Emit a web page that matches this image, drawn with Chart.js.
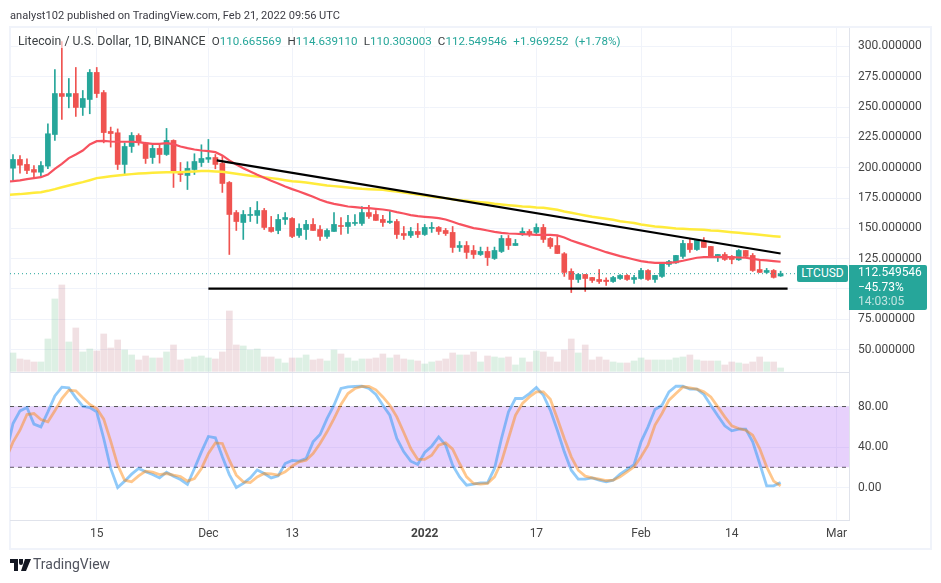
<!DOCTYPE html>
<html>
<head>
<meta charset="utf-8">
<title>LTCUSD</title>
<script src="https://cdn.jsdelivr.net/npm/chart.js@4/dist/chart.umd.min.js"></script>
<style>
  html, body { margin: 0; padding: 0; background: #fff; }
  body { width: 941px; height: 583px; position: relative; overflow: hidden; font-family: Roboto, sans-serif; color: #333; }
  #frame { position: absolute; left: 9px; top: 26px; width: 919px; height: 520px; border: 2px solid #f0f3fa; }
  canvas { position: absolute; left: 0; top: 0; }
  .txt { position: absolute; white-space: nowrap; }
  #published { left: 10px; top: 9px; font-size: 11.1px; color: #3c3c44; }
  #legend { left: 18px; top: 34px; font-size: 12.3px; color: #3c4043; background: rgba(255,255,255,.6); }
  #legend b { font-weight: 400; color: #26a69a; }
  #legend span { margin-left: 3.3px; font-size: 11.6px; }
  #tag { left: 797px; top: 265px; width: 51px; height: 17px; line-height: 17px; background: #26a69a; color: #fff; font-size: 12px; text-align: center; border-radius: 2px; }
  #box { left: 849px; top: 265px; width: 78px; height: 45px; background: #26a69a; color: #fff; font-size: 12px; line-height: 14.5px; padding-left: 9px; box-sizing: border-box; border-radius: 0 2px 2px 0; }
  #box i { font-style: normal; color: #bfe4e0; }
  #brand { left: 33px; top: 556px; font-size: 14px; color: #50535e; }
  #logo { position: absolute; left: 10px; top: 559px; }
</style>
</head>
<body>
<div id="frame"></div>
<canvas id="chart" width="941" height="583"></canvas>
<div class="txt" id="published">analyst102 published on TradingView.com, Feb 21, 2022 09:56 UTC</div>
<div class="txt" id="legend">Litecoin / U.S. Dollar, 1D, BINANCE<span> O<b>110.665569</b></span><span> H<b>114.639110</b></span><span> L<b>110.303003</b></span><span> C<b>112.549546</b></span><span> <b>+1.969252</b></span><span> <b>(+1.78%)</b></span></div>
<div class="txt" id="tag">LTCUSD</div>
<div class="txt" id="box">112.549546<br>−45.73%<br><i>14:03:05</i></div>
<svg id="logo" width="21" height="12" viewBox="0 0 21 12"><path d="M0 0h8v12H4V4H0z M9 0h4l-0 4a2 2 0 0 1-4 0z M15 0h6l-5 12h-5z" fill="#131722"/></svg>
<div class="txt" id="brand">TradingView</div>

<script>
// Velas diarias, el indice 0 es el 3 de noviembre de 2021
const opens = [
  199.6,206.8,202.7,198.5,196.3,201.3,227.4,261.2,258.8,261.2,
  249.7,256.3,278.6,262,229.9,228.8,202.7,217.5,226.6,220.5,
  208.4,215.9,210.9,222.5,195.2,193.6,198.5,204.3,207,208.4,
  203.5,187.8,163,154.8,160.6,160.6,164.7,150.7,148.2,157.3,
  158.1,144.1,149,153.2,149,143.3,147.4,152.3,151.5,154,
  154,163,161.4,157.3,154.8,155.6,145.7,144.1,147.4,144.9,
  149.9,150.7,148.2,146.6,134.2,135.8,131.7,128.4,130.9,125.1,
  130.9,141.6,135.8,144.9,147.4,146.6,150.7,141.6,135.8,129,
  114.4,107.8,111.9,109.4,107.8,107.2,106.1,108.6,111.1,107.8,
  108.6,115.2,107.8,110.3,120.2,121.5,126.8,137.5,132.5,139.1,
  135,125.9,128.4,126.8,124,131.7,127.6,116,113.6,115.2,110.67];
const highs = [
  210.9,210.1,207.3,201.8,205.1,236.2,281,304.1,273.6,282.7,
  263.7,281,282.7,263.7,233.5,232,220.5,229,228,221,
  219.2,219.7,232.4,223,204.3,204.9,211.5,218.9,223.3,210.9,
  209.3,188.6,164.7,164.7,167.2,172.1,166.4,159.8,161.4,163,
  158.9,153.7,156.5,158.1,152.3,149.6,163,158.9,160.6,161.4,
  168,168.9,164.7,160.6,163.9,157.3,151.5,150.7,154,153.2,
  154.8,151.5,149.9,151.5,139.1,139.1,135.8,134.5,134.5,134.5,
  144.1,144.1,140.8,150.4,149,153.7,153.2,142.4,143.3,130,
  116.6,112.7,112,109.5,116,109.2,110.3,111.9,111.9,111.1,
  116.9,116,111.2,121.8,123.5,127.7,140,140.8,140.8,142.4,
  135.1,128.4,130,127.6,132.5,131.8,129.2,123.5,116.9,116,114.64];
const lows = [
  189.5,195.5,195,191.7,193,199.1,222.5,239.8,249.4,242.3,
  243.1,244.5,257.9,220.5,217,198.5,195,212.6,218.6,203.5,
  203.5,203.8,210.1,183.7,188.6,182,194.4,201,204.3,199.1,
  179.6,128.4,148.2,140.8,155.6,154,149,146.8,145.5,153.2,
  142.2,142.4,140.8,148.2,140,141.6,147.4,144.9,145.7,152.3,
  152.3,158.1,156.5,151.5,154,141.6,140.8,142.4,142.4,144.1,
  146.6,144.9,144.1,130.1,130.9,125.1,125.1,127.6,119.3,124.3,
  130,132.5,135.8,144.1,143.3,144.1,138.3,133.4,129.2,110.3,
  97,105.3,97.9,105.3,104.5,102.9,105.3,107.8,107,104.5,
  108,107,105.3,109.4,118.5,121,125.1,130,131.7,134.2,
  125.9,122.6,123.5,120.7,123.5,125.7,114.4,113.6,112.7,108.9,110.3];
const closes = [
  206.8,202.1,197.7,196.3,201.8,228,261.2,258.8,261.2,249.7,
  257.1,278.6,261.2,229,228.2,202.7,217.5,226.6,221.6,207.6,
  215.9,210.9,222.5,196,194.4,199.4,205.1,207.6,208.4,202.7,
  187,161.4,155.6,161.4,161.4,164.7,150.7,147.4,157.3,158.9,
  143.3,149.9,153.2,148.2,143.3,148.2,153.2,151.5,154.8,154.8,
  163,159.8,156.5,154.8,155.9,144.9,144.1,147.4,144.9,150.7,
  150.7,147.4,145.7,134.2,135.8,130.1,128.4,130.9,125.9,131.7,
  141.6,135.8,137.5,147.4,145.5,150.7,140.8,135,129.2,113.6,
  107.8,111.9,108.6,107,106.1,106.1,109.4,111.1,107.8,109.4,
  115.2,107.8,111.1,121,122.6,127.6,137.5,132.5,140,134.2,
  125.9,128.4,124.3,124.3,131.7,126.8,115.2,113.6,115.2,109.5,112.55];
const volumes = [
  550,370,340,280,280,970,2170,2590,880,1300,
  580,670,610,1120,700,940,640,490,340,460,
  400,400,580,790,340,370,430,460,400,370,
  580,1810,790,760,640,670,430,430,370,250,
  400,400,490,340,370,310,640,520,400,310,
  370,370,400,520,400,490,370,340,310,220,
  280,310,370,550,490,490,580,280,460,430,
  400,430,190,400,280,610,580,430,280,640,
  970,550,790,340,430,340,280,250,250,310,
  400,340,340,340,340,400,430,490,340,310,
  310,310,190,280,250,220,280,430,280,280,100];

// Medias e indicador: empiezan un dia antes para llegar al borde del panel
const ma20 = [
  188.5,188.9,189.5,190.6,191.4,192.2,194.4,199.1,203.2,207.9,210.9,
  214.2,219.2,221.9,222.2,221.6,221.4,221.4,221.4,221.1,220.3,
  219.7,219.7,220.3,219.4,217.5,216.1,215,214.2,213.7,212.8,
  210.1,206,202.7,199.6,196.9,194.1,191.7,189.2,187,184.5,
  182.3,180.4,178.2,176,173.5,171.6,170.2,169.1,168,167.5,
  166.9,166.6,166.1,165.5,164.7,163.3,162.2,160.9,160,159.5,
  159,158.4,157.3,155.4,153.4,151.8,150.1,149.3,148.2,147.1,
  146.3,145.7,145.5,145.2,144.9,144.6,144.6,144.6,144.1,142.4,
  140,138,136.1,134.2,132.3,130.3,128.7,127,125.7,124.3,
  122.9,122.1,121.5,121.5,121.5,122.1,123.2,124.5,125.7,126.2,
  126.2,126.5,126.2,126.2,125.9,125.7,124.8,124,123.5,122.9,122.4];
const ma50 = [
  177.6,177.9,178.2,178.7,179.3,179.8,180.9,182.3,183.9,185.3,186.7,
  188.1,189.7,191.4,192.2,193,193.6,194.1,194.7,195.2,195.5,
  195.8,196,196.3,196.3,196.3,196.6,196.9,197.2,197.2,196.9,
  196.6,195.8,195,194.1,193.3,192.8,192.2,191.4,190.6,189.7,
  188.9,188.5,187.8,187,186.2,185.3,184.8,184.2,183.7,183.1,
  182.6,182.3,182,181.8,180.9,180.4,179.6,178.7,177.9,177.1,
  176.3,175.4,174.9,174,173.2,172.7,172.1,171.6,171,170.2,
  169.7,169.1,168.6,168,167.7,167.2,166.9,166.1,165.3,163.9,
  162.8,161.7,160.6,159.5,158.7,157.8,157,155.9,155.1,154.3,
  153.2,152.3,151.5,151,150.4,149.9,149.6,149.3,149,148.8,
  148.2,147.9,147.4,146.8,146.3,145.7,145.2,144.6,144.1,143.5,143];
const stochK = [
  33,63.2,75.7,79,62.6,59.9,74.7,90.5,99.1,98.4,88.6,
  80.3,79,74.7,48.4,18.8,0,6.3,13.2,18.8,15.5,
  12.8,9.5,15.1,11.2,7.9,3,18.8,35.2,50.4,49.1,
  30.3,12.8,0,4,9.5,17.4,13.8,9.5,11.5,23.7,
  26.7,26,28.6,45.1,52.3,68.1,81.3,97.8,99.4,99.8,
  100,97.8,91.9,81.3,71.4,48.4,35.2,26,22.7,34.6,
  40.8,50,41.8,22.1,10.5,2.3,3.3,4.6,4.6,18.8,
  48.4,74.7,87.9,87.9,92.8,98.8,91.2,76.4,56.6,35.2,
  17.1,8.2,8.2,9.5,7.2,5.6,7.2,13.2,17.8,22.7,
  45.1,59.9,77,81.3,94.5,100,100,97.1,97.1,91.9,
  81.3,70.8,60.9,56,57.6,57.6,45.1,23.7,1.6,1.6,4.9];
const stochD = [
  28.6,44.8,56.6,72.1,73.1,67.2,64.9,75.7,87.9,96.1,95.5,
  88.6,82,78,67.5,45.8,22.1,7.2,5.6,11.5,16.1,
  15.1,12.8,13.8,12.2,10.9,6.3,8.9,18.8,33.6,44.1,
  43.5,27,12.2,5.6,4.9,10.5,13.8,13.5,12.2,15.5,
  21.1,25.4,27,33.6,43.5,55,68.1,82,92.8,97.8,
  99.8,99.8,96.5,89.5,81.3,69.8,54.3,38.5,27.7,27.7,
  31.9,41.8,44.1,37.9,23.7,10.5,4,3.3,4,10.5,
  25.4,48.4,71.4,83,89.5,94.5,94.5,87.2,68.1,48.4,
  30.3,17.1,11.2,9.5,8.2,6.9,7.2,10.5,15.5,20.4,
  30.3,41.8,61.6,73.1,86.3,92.8,99.4,98.4,97.1,94.5,
  89.5,79.7,69.8,60.9,58.3,56.6,51.7,38.5,20.4,6.3,1.6];

// Lineas dibujadas a mano por el analista: [dia, precio]
const resistance = [[29.2, 206], [110, 129.2]];
const support = [[28, 100.3], [111, 100.3]];
const lastPrice = 112.549546;

// Marcas de los ejes
const timeTickDays = [12, 28, 40, 59, 75, 90, 103, 118];
const timeTickLabels = ['15', 'Dec', '13', '2022', '17', 'Feb', '14', 'Mar'];
const priceTicks = [300, 275, 250, 225, 200, 175, 150, 125, 100, 75, 50];
const stochTicks = [80, 40, 0];
const stochBand = [80, 20];

const GREEN = '#26a69a';
const RED = '#ef5350';
const GRID = '#f0f3fa';
const AXIS = '#e0e3eb';
const LABEL = '#444';
const xMin = -0.43, xMax = 119.8;

const points = (arr, first) => arr.map((y, i) => ({ x: i + first, y: y }));
const pairs = arr => arr.map(p => ({ x: p[0], y: p[1] }));
const fullWidth = y => [{ x: xMin, y: y }, { x: xMax, y: y }];
const isUp = i => closes[i] >= opens[i];
const fixedTicks = list => scale => { scale.ticks = list.map(v => ({ value: v })); };
const line = (data, color, width, extra) => Object.assign({
  type: 'line', data: data, borderColor: color, borderWidth: width,
  pointRadius: 0, tension: 0, fill: false, yAxisID: 'y'
}, extra);

// Linea entre el panel de precio y el indicador
const paneBorder = {
  id: 'paneBorder',
  beforeDatasetsDraw(chart) {
    const { ctx, chartArea, scales } = chart;
    ctx.save();
    ctx.strokeStyle = AXIS;
    ctx.beginPath();
    ctx.moveTo(chartArea.left, scales.y.bottom + 0.5);
    ctx.lineTo(chartArea.right, scales.y.bottom + 0.5);
    ctx.stroke();
    ctx.restore();
  }
};

new Chart(document.getElementById('chart'), {
  data: {
    datasets: [
      // banda del Stoch RSI
      line(fullWidth(stochBand[0]), '#555', 1,
        { yAxisID: 'yStoch', borderDash: [4, 4], fill: '+1', backgroundColor: 'rgba(160,70,245,.25)', order: 10 }),
      line(fullWidth(stochBand[1]), '#555', 1,
        { yAxisID: 'yStoch', borderDash: [4, 4], order: 10 }),
      // volumen
      {
        type: 'bar', data: points(volumes, 0), yAxisID: 'yVol', barThickness: 6, grouped: false, order: 9,
        backgroundColor: volumes.map((v, i) => isUp(i) ? 'rgba(76,175,110,.19)' : 'rgba(170,70,90,.17)')
      },
      // mechas y cuerpos de las velas
      {
        type: 'bar', data: lows.map((l, i) => ({ x: i, y: [l, highs[i]] })), yAxisID: 'y', barThickness: 1, grouped: false, order: 8,
        backgroundColor: lows.map((l, i) => isUp(i) ? GREEN : RED)
      },
      {
        type: 'bar', data: opens.map((o, i) => ({ x: i, y: [o, closes[i]] })), yAxisID: 'y', barThickness: 5, grouped: false, minBarLength: 1, order: 7,
        backgroundColor: opens.map((o, i) => isUp(i) ? GREEN : RED)
      },
      line(points(ma50, -1), '#ffeb3b', 2.5, { order: 6 }),
      line(points(ma20, -1), '#f7525f', 2.2, { order: 5 }),
      line(fullWidth(lastPrice), GREEN, 1, { borderDash: [1, 3], order: 4 }),
      line(pairs(resistance), '#000', 2.2, { order: 1 }),
      line(pairs(support), '#000', 2.2, { order: 1 }),
      line(points(stochK, -1), 'rgba(33,150,243,.5)', 2.8, { yAxisID: 'yStoch', order: 3 }),
      line(points(stochD, -1), 'rgba(255,130,0,.45)', 2.8, { yAxisID: 'yStoch', order: 2 })
    ]
  },
  plugins: [paneBorder],
  options: {
    responsive: false,
    animation: false,
    events: [],
    layout: { padding: { left: 10, right: 11, top: 28, bottom: 35 } },
    plugins: { legend: { display: false }, tooltip: { enabled: false }, title: { display: false } },
    scales: {
      x: {
        type: 'linear', min: xMin, max: xMax, offset: false,
        afterBuildTicks: fixedTicks(timeTickDays),
        afterFit: s => { s.height = 28; },
        grid: { color: GRID, drawTicks: false, offset: false },
        border: { color: AXIS },
        ticks: {
          autoSkip: false, maxRotation: 0, padding: 7,
          color: LABEL,
          font: ctx => ({ family: 'Roboto', size: 12, weight: ctx.tick && ctx.tick.value === 59 ? '700' : '400' }),
          callback: v => timeTickLabels[timeTickDays.indexOf(v)]
        }
      },
      y: {
        position: 'right', stack: 'panes', stackWeight: 344,
        min: 31.44, max: 315.26,
        afterBuildTicks: fixedTicks(priceTicks),
        afterFit: s => { s.width = 81; },
        grid: { color: GRID, drawTicks: false },
        border: { color: AXIS },
        ticks: {
          autoSkip: false, padding: 9, color: LABEL, font: { family: 'Roboto', size: 12 },
          // el 100 queda tapado por la etiqueta del ultimo precio
          callback: v => v === 100 ? '' : v.toFixed(6)
        }
      },
      yStoch: {
        position: 'right', stack: 'panes', stackWeight: 148,
        min: -32.1, max: 114.1,
        afterBuildTicks: fixedTicks(stochTicks),
        afterFit: s => { s.width = 81; },
        grid: { color: GRID, drawTicks: false },
        border: { color: AXIS },
        ticks: {
          autoSkip: false, padding: 9, color: LABEL, font: { family: 'Roboto', size: 12 },
          callback: v => v.toFixed(2)
        }
      },
      yVol: { display: false, min: -4461, max: 10299 }
    }
  }
});
</script>
</body>
</html>
